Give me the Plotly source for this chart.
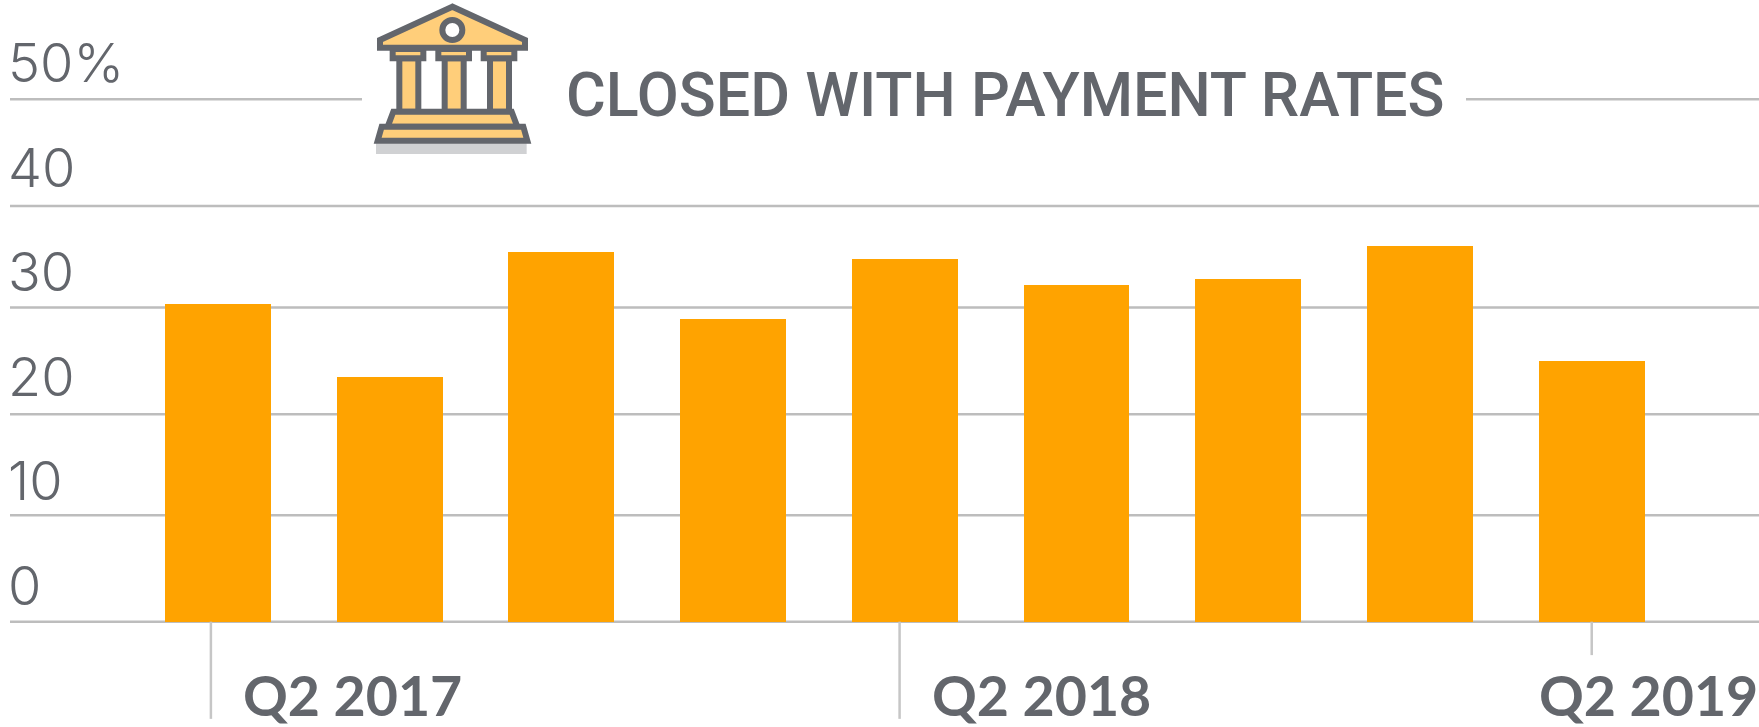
import plotly.graph_objects as go

QUARTERS = ["Q2 2017","Q3 2017","Q4 2017","Q1 2018","Q2 2018","Q3 2018","Q4 2018","Q1 2019","Q2 2019"]
RATES = [30.4, 23.4, 35.35, 28.97, 34.75, 32.2, 32.8, 35.95, 24.95]
Y_GRID = [0, 10.18, 19.86, 30.07, 39.78, 50]
Y_TICKS = [0, 10, 20, 30, 40, 50]
Y_LABELS = ["0", "10", "20", "30", "40", "50%"]
TICK_POS = [-0.04, 3.97, 8.0]
TICK_DEPTH = [-9.3, -9.3, -3.2]
TICK_TEXT = ["Q2 2017", "Q2 2018", "Q2 2019"]
TITLE = "CLOSED WITH PAYMENT RATES"

W, H = 1759, 727
GRAY = "#63666c"; GRID = "#bdbdbd"; BAR = "#ffa300"; PALE = "#ffce7a"; SHADOW = "#d0d1d3"

fig = go.Figure(go.Bar(x=list(range(len(RATES))), y=RATES, width=0.617,
                       marker=dict(color=BAR, line=dict(width=0)), hoverinfo="skip"))

def px(x, y):
    return x / W, 1 - y / H
def zx(x, y):
    return px(360 + x / 3, y / 3)

shapes = []
# gridlines
for g in Y_GRID:
    shapes.append(dict(type="line", xref="paper", yref="y", x0=10 / W, x1=1, y0=g, y1=g,
                       layer="below", line=dict(color=GRID, width=2.5)))
# ticks below the baseline
for p, d in zip(TICK_POS, TICK_DEPTH):
    shapes.append(dict(type="line", xref="x", yref="y", x0=p, x1=p, y0=0, y1=d,
                       line=dict(color="#c6c6c6", width=2.5)))
# white gap behind the title on the top gridline
x0, y0 = px(362, 95); x1, y1 = px(1466, 104)
shapes.append(dict(type="rect", xref="paper", yref="paper", x0=x0, x1=x1, y0=y0, y1=y1,
                   fillcolor="white", line=dict(width=0)))

def zpoly(points, fill, stroke=GRAY, sw=6):
    parts = []
    for i, (a, b) in enumerate(points):
        u, v = zx(a, b)
        parts.append(("M" if i == 0 else "L") + f"{u:.5f},{v:.5f}")
    shapes.append(dict(type="path", xref="paper", yref="paper", path=" ".join(parts) + " Z",
                       fillcolor=fill, line=dict(color=stroke, width=sw)))

def zrect(a, b, c, d, fill, stroke=GRAY, sw=6):
    zpoly([(a, b), (c, b), (c, d), (a, d)], fill, stroke, sw)

# building icon
zrect(48, 430, 500, 462, SHADOW, SHADOW, 0)
for left in (118, 254, 390):
    zrect(left, 175, left + 57, 335, PALE)
for left in (98, 235, 371):
    zrect(left, 147, left + 92, 175, PALE)
zpoly([(277, 20), (60, 120), (60, 143), (495, 143), (495, 120)], PALE)
u0, v0 = zx(247, 60); u1, v1 = zx(307, 120)
shapes.append(dict(type="circle", xref="paper", yref="paper", x0=u0, x1=u1, y0=v1, y1=v0,
                   fillcolor="white", line=dict(color=GRAY, width=6)))
zpoly([(100, 335), (455, 335), (472, 380), (83, 380)], PALE)
zpoly([(65, 380), (490, 380), (502, 422), (53, 422)], PALE)

annotations = [dict(text=t, x=p, y=0, xref="x", yref="y", xanchor="left", yanchor="top",
                    xshift=xs, yshift=-37, showarrow=False,
                    font=dict(family="Lato", size=55.5, color=GRAY, weight=700))
               for t, p, xs in zip(TICK_TEXT, TICK_POS, [30, 30, -55])]
tx, ty = px(564, 95)
annotations.append(dict(text=TITLE, x=tx, y=ty, xref="paper", yref="paper",
                        xanchor="left", yanchor="middle", showarrow=False,
                        font=dict(family="Roboto", size=61, color=GRAY, weight=500)))

fig.update_layout(
    width=W, height=H, autosize=False, margin=dict(l=0, r=0, t=0, b=0),
    paper_bgcolor="white", plot_bgcolor="white", showlegend=False, bargap=0,
    shapes=shapes, annotations=annotations,
    xaxis=dict(range=[-1.268, 8.974], showgrid=False, zeroline=False, showline=False,
               showticklabels=False, ticks=""),
    yaxis=dict(range=[-10.08, 59.5], tickmode="array", tickvals=Y_TICKS, ticktext=Y_LABELS,
               showgrid=False, zeroline=False, showline=False,
               ticks="", ticklabelposition="inside", ticklabelshift=-36, ticklabelstandoff=5,
               tickfont=dict(family="Inter", size=54, color=GRAY, weight=300)),
)
fig.write_html("out.html", post_script="document.body.style.margin='0';document.documentElement.style.overflow='hidden';",
               config=dict(displayModeBar=False))
